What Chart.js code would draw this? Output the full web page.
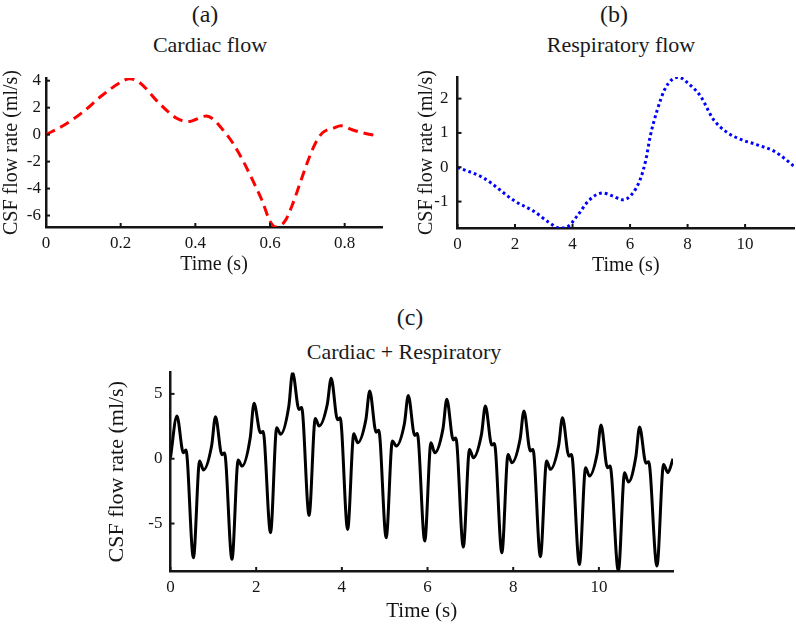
<!DOCTYPE html>
<html><head><meta charset="utf-8">
<script src="https://cdn.jsdelivr.net/npm/chart.js@4.4.0/dist/chart.umd.min.js"></script>
<style>
html,body{margin:0;padding:0;background:#fff;}
#wrap{position:relative;width:796px;height:624px;overflow:hidden;font-family:'Liberation Serif','Times New Roman',serif;color:#1a1a1a;}
.cv{position:absolute;}
.t{position:absolute;transform:translate(-50%,-50%);white-space:nowrap;line-height:1;}
</style></head><body>
<div id="wrap">
  <div class="t" style="left:205px;top:14px;font-size:24px">(a)</div>
  <div class="t" style="left:210px;top:45px;font-size:22px">Cardiac flow</div>
  <div class="t" style="left:614px;top:14px;font-size:24px">(b)</div>
  <div class="t" style="left:621px;top:45px;font-size:22px">Respiratory flow</div>
  <div class="t" style="left:410px;top:317px;font-size:24px">(c)</div>
  <div class="t" style="left:404px;top:352px;font-size:22px">Cardiac + Respiratory</div>
  <div class="cv" style="left:0;top:0;"><canvas id="ca" width="398" height="300"></canvas></div>
  <div class="cv" style="left:398px;top:0;"><canvas id="cb" width="398" height="300"></canvas></div>
  <div class="cv" style="left:100px;top:300px;"><canvas id="cc" width="600" height="324"></canvas></div>
</div>
<script>
// ---------- data ----------
const aTime = [0, 0.05, 0.1, 0.15, 0.2, 0.224, 0.25, 0.3, 0.35, 0.38, 0.43, 0.45, 0.47, 0.5, 0.53, 0.56, 0.58, 0.6, 0.615, 0.64, 0.66, 0.68, 0.7, 0.72, 0.74, 0.77, 0.79, 0.82, 0.85, 0.89];
const aFlow = [0, 0.73, 1.7, 2.9, 3.88, 4.15, 3.88, 2.42, 1.21, 0.97, 1.38, 1.09, 0.48, -0.6, -2.06, -3.76, -4.97, -6.42, -6.85, -6.42, -5.2, -3.64, -2.06, -0.73, 0.12, 0.48, 0.65, 0.36, 0.12, -0.1];

const bTime = [0, 0.9, 2.0, 2.65, 3.2, 3.55, 3.85, 4.15, 4.6, 5.05, 5.4, 5.75, 6.05, 6.35, 6.55, 6.7, 6.95, 7.2, 7.45, 7.7, 8.0, 8.45, 8.9, 9.4, 9.85, 10.4, 11.0, 11.35, 11.7];
const bFlow = [0, -0.31, -0.99, -1.28, -1.62, -1.77, -1.72, -1.43, -0.94, -0.75, -0.84, -0.95, -0.8, -0.36, 0.22, 0.9, 1.68, 2.26, 2.55, 2.62, 2.46, 2.07, 1.39, 1.0, 0.81, 0.66, 0.47, 0.27, 0.03];

const cTime = [0, 0.15, 0.30, 0.36, 0.535, 0.68, 0.77, 0.96,
  1.05, 1.20, 1.26, 1.435, 1.58, 1.67, 1.86,
  1.95, 2.10, 2.16, 2.335, 2.48, 2.57, 2.76,
  2.85, 3.00, 3.06, 3.235, 3.38, 3.47, 3.66,
  3.75, 3.90, 3.96, 4.135, 4.28, 4.37, 4.56,
  4.65, 4.80, 4.86, 5.035, 5.18, 5.27, 5.46,
  5.55, 5.70, 5.76, 5.935, 6.08, 6.17, 6.36,
  6.45, 6.60, 6.66, 6.835, 6.98, 7.07, 7.26,
  7.35, 7.50, 7.56, 7.735, 7.88, 7.97, 8.16,
  8.25, 8.40, 8.46, 8.635, 8.78, 8.87, 9.06,
  9.15, 9.30, 9.36, 9.545, 9.69, 9.78, 9.96,
  10.05, 10.20, 10.26, 10.455, 10.60, 10.69, 10.86,
  10.95, 11.10, 11.16, 11.355, 11.51, 11.61, 11.73];
const cFlow = [0.1, 3.29, 0.46, 0.67, -7.63, -0.18, -0.87, 1.0,
  3.24, 0.30, 0.45, -7.76, -0.10, -0.57, 1.6,
  4.27, 2.00, 2.10, -5.71, 2.39, 1.88, 4.0,
  6.65, 3.80, 3.95, -4.37, 3.11, 2.52, 4.2,
  6.20, 3.00, 3.16, -5.45, 1.93, 1.23, 3.0,
  5.22, 2.05, 2.20, -6.09, 1.36, 0.98, 2.7,
  4.88, 1.80, 1.95, -6.35, 1.23, 0.46, 2.3,
  4.58, 1.45, 1.60, -6.81, 0.72, 0.08, 1.9,
  4.06, 1.05, 1.18, -7.25, 0.33, -0.31, 1.5,
  3.68, 0.60, 0.72, -7.56, -0.18, -0.82, 1.0,
  3.16, 0.20, 0.33, -8.15, -0.69, -1.34, 0.4,
  2.60, -0.70, -0.57, -8.66, -1.08, -1.80, 0.1,
  2.44, -0.35, -0.23, -8.28, -0.44, -1.08, 0.0];

const aXTicks = [0, 0.2, 0.4, 0.6, 0.8];
const aYTicks = [-6, -4, -2, 0, 2, 4];
const bXTicks = [0, 2, 4, 6, 8, 10];
const bYTicks = [-1, 0, 1, 2];
const cXTicks = [0, 2, 4, 6, 8, 10];
const cYTicks = [-5, 0, 5];

const xTitle = 'Time (s)';
const yTitle = 'CSF flow rate (ml/s)';

// ---------- rendering ----------
const FF = "'Liberation Serif', 'Times New Roman', serif";
const INK = '#151515';

const inwardTicks = {
  id: 'inwardTicks',
  afterDraw(chart) {
    const ctx = chart.ctx, area = chart.chartArea;
    const xs = chart.scales.x, ys = chart.scales.y;
    ctx.save();
    ctx.strokeStyle = INK; ctx.lineWidth = 2;
    xs.ticks.forEach((t, i) => {
      const px = xs.getPixelForTick(i);
      ctx.beginPath(); ctx.moveTo(px, area.bottom); ctx.lineTo(px, area.bottom - 4); ctx.stroke();
    });
    ys.ticks.forEach((t, i) => {
      const py = ys.getPixelForTick(i);
      ctx.beginPath(); ctx.moveTo(area.left, py); ctx.lineTo(area.left + 4, py); ctx.stroke();
    });
    ctx.restore();
  }
};

function axis(o) {
  return {
    type: 'linear', min: o.min, max: o.max,
    afterBuildTicks: s => { s.ticks = o.ticks.map(v => ({ value: v })); },
    afterFit: s => { if (o.w != null) s.width = o.w; if (o.h != null) s.height = o.h; },
    grid: { display: false, drawTicks: false, tickLength: 0 },
    border: { display: true, color: INK, width: 2.5 },
    ticks: { font: { family: FF, size: o.tickSize }, color: INK, padding: o.pad, maxRotation: 0, autoSkip: false,
             callback: v => String(v) },
    title: { display: true, text: o.title, color: INK,
             font: { family: FF, size: o.titleSize, lineHeight: 1.2 }, padding: { top: 0, bottom: 0 } }
  };
}

function makeChart(id, xs, ys, ds, pad) {
  return new Chart(document.getElementById(id), {
    type: 'line',
    data: { datasets: [ds] },
    options: {
      responsive: false, animation: false, devicePixelRatio: 1,
      layout: { padding: pad },
      plugins: { legend: { display: false }, tooltip: { enabled: false }, title: { display: false } },
      elements: { point: { radius: 0 } },
      scales: { x: xs, y: ys }
    },
    plugins: [inwardTicks]
  });
}

function pts(t, v) { return t.map((x, i) => ({ x: x, y: v[i] })); }

makeChart('ca',
  axis({ min: 0, max: 0.9, ticks: aXTicks, h: 50, tickSize: 17, pad: 6, title: xTitle, titleSize: 20 }),
  axis({ min: -6.85, max: 4.2, ticks: aYTicks, w: 46, tickSize: 17, pad: 5, title: yTitle, titleSize: 20 }),
  { data: pts(aTime, aFlow), borderColor: '#ff0000', borderWidth: 3, borderDash: [10, 6],
    cubicInterpolationMode: 'monotone', fill: false },
  { left: 0, top: 78, right: 16, bottom: 23 });

makeChart('cb',
  axis({ min: 0, max: 11.7, ticks: bXTicks, h: 50, tickSize: 17, pad: 6, title: xTitle, titleSize: 20 }),
  axis({ min: -1.77, max: 2.63, ticks: bYTicks, w: 42.5, tickSize: 17, pad: 9, title: yTitle, titleSize: 20 }),
  { data: pts(bTime, bFlow), borderColor: '#0000ff', borderWidth: 3, borderDash: [2.8, 3],
    cubicInterpolationMode: 'monotone', fill: false },
  { left: 17, top: 77, right: 2, bottom: 22 });

makeChart('cc',
  axis({ min: 0, max: 11.73, ticks: cXTicks, h: 53, tickSize: 17, pad: 6, title: xTitle, titleSize: 21 }),
  axis({ min: -8.66, max: 6.65, ticks: cYTicks, w: 66.7, tickSize: 17, pad: 8, title: yTitle, titleSize: 22 }),
  { data: pts(cTime, cFlow), borderColor: '#000000', borderWidth: 3,
    cubicInterpolationMode: 'monotone', fill: false },
  { left: 3.8, top: 72.5, right: 27, bottom: 0 });
</script>
</body></html>
